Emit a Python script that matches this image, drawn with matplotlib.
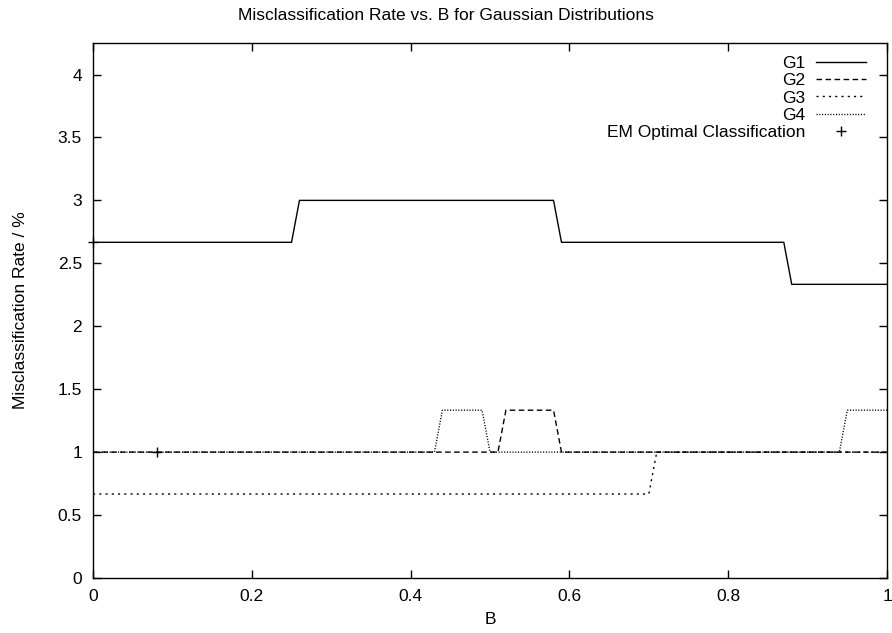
import matplotlib
matplotlib.use("Agg")
import matplotlib.pyplot as plt
from matplotlib.ticker import FuncFormatter

plt.rcParams['font.family'] = ['Liberation Sans', 'DejaVu Sans']

# 데이터
g1_x = [0, 0.25, 0.26, 0.58, 0.59, 0.87, 0.88, 1.0]
g1_y = [2.667, 2.667, 3.0, 3.0, 2.667, 2.667, 2.333, 2.333]

g2_x = [0, 0.51, 0.52, 0.58, 0.59, 1.0]
g2_y = [1.0, 1.0, 1.333, 1.333, 1.0, 1.0]

g3_x = [0, 0.70, 0.71, 1.0]
g3_y = [0.667, 0.667, 1.0, 1.0]

g4_x = [0, 0.43, 0.44, 0.49, 0.50, 0.94, 0.95, 1.0]
g4_y = [1.0, 1.0, 1.333, 1.333, 1.0, 1.0, 1.333, 1.333]

em_x = [0, 0.08]
em_y = [2.667, 1.0]

x_ticks = [0, 0.2, 0.4, 0.6, 0.8, 1.0]
y_ticks = [0, 0.5, 1, 1.5, 2, 2.5, 3, 3.5, 4]

fs = 12.5

fig = plt.figure(figsize=(8.92, 6.33), dpi=100)
ax = fig.add_axes([0.1043, 0.0869, 0.8901, 0.8451])

ax.plot(g1_x, g1_y, color='black', lw=1.0, ls='-', label='G1')
ax.plot(g2_x, g2_y, color='black', lw=1.0, ls=(0, (4, 2.5)), label='G2')
ax.plot(g3_x, g3_y, color='black', lw=1.0, ls=(0, (1.5, 3)), label='G3')
ax.plot(g4_x, g4_y, color='black', lw=1.0, ls=(0, (0.8, 1.2)), label='G4')
ax.plot(em_x, em_y, color='black', ls='none', marker='+', ms=7, mew=1.0,
        clip_on=False, label='EM Optimal Classification')

ax.set_xlim(0, 1)
ax.set_ylim(0, 4.25)
ax.set_xticks(x_ticks)
ax.set_yticks(y_ticks)
ax.xaxis.set_major_formatter(FuncFormatter(lambda v, p: '%g' % v))
ax.yaxis.set_major_formatter(FuncFormatter(lambda v, p: '%g' % v))
ax.tick_params(direction='in', length=5.8, width=1.0, top=True, right=True,
               labelsize=fs, pad=8)
for s in ax.spines.values():
    s.set_linewidth(1.0)

# 제목은 그림 전체 가운데
fig.text(0.5, 1 - 15 / 633, 'Misclassification Rate vs. B for Gaussian Distributions',
         fontsize=fs, ha='center', va='center')
ax.set_xlabel('B', fontsize=fs, labelpad=6)
ax.set_ylabel('Misclassification Rate / %', fontsize=fs, labelpad=21)

leg = ax.legend(loc='upper right', frameon=False, markerfirst=False, fontsize=fs,
                handlelength=2.9, labelspacing=0.12, borderaxespad=0.0, borderpad=0.0,
                bbox_to_anchor=(0.974, 0.976), handletextpad=0.63)

fig.savefig('out.png', dpi=100)
